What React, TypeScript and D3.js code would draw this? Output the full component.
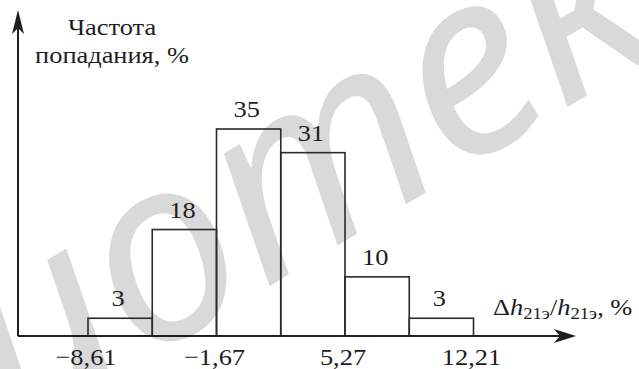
import React from "react";
import * as d3 from "d3";

// Histogram bins: edges of the relative deviation Δh21э/h21э, % and hit frequency, %
const binEdges = [-8.61, -5.14, -1.67, 1.8, 5.27, 8.74, 12.21];
const frequencies = [3, 18, 35, 31, 10, 3];
const tickValues = [-8.61, -1.67, 5.27, 12.21];
const tickLabels = ["−8,61", "−1,67", "5,27", "12,21"];

const W = 639;
const H = 369;
const FONT = "Liberation Serif";
const INK = "#1e1e1e";
const SX = 1.1;

function T({ x, y, size = 24, anchor = "middle", children }: any) {
  return (
    <text
      transform={`translate(${x},${y}) scale(${SX},1)`}
      textAnchor={anchor}
      style={{ fontFamily: FONT, fontSize: size }}
      fill={INK}
    >
      {children}
    </text>
  );
}

export default function App() {
  const x = d3.scaleLinear().domain([-8.61, 12.21]).range([88, 473.5]);
  const y = d3.scaleLinear().domain([0, 35]).range([336, 129]);
  const axisX = 18;
  const baseY = y(0);

  const bars = frequencies.map((f, i) => ({
    x0: x(binEdges[i]),
    x1: x(binEdges[i + 1]),
    v: f,
  }));

  return (
    <svg
      width={W}
      height={H}
      viewBox={`0 0 ${W} ${H}`}
      style={{ position: "absolute", left: 0, top: 0, background: "#fff" }}
    >
      {/* library stamp */}
      <text
        transform="translate(17,438) rotate(-31)"
        style={{ fontFamily: "Noto Sans", fontStyle: "italic", fontSize: 256 }}
        fill="#d9d9d9"
        textAnchor="start"
      >
        иотека
      </text>

      {/* bars */}
      {bars.map((b, i) => (
        <rect
          key={i}
          x={b.x0}
          y={y(b.v)}
          width={b.x1 - b.x0}
          height={baseY - y(b.v)}
          fill="none"
          stroke="#2a2a2a"
          strokeWidth={1.6}
        />
      ))}

      {/* value labels */}
      {bars.map((b, i) => (
        <T key={i} x={(b.x0 + b.x1) / 2 - 2} y={y(b.v) - 12}>
          {b.v}
        </T>
      ))}

      {/* axes */}
      <line x1={axisX} y1={baseY} x2={axisX} y2={22} stroke={INK} strokeWidth={2} />
      <path
        d={`M${axisX},10 L${axisX + 6},34 L${axisX},28 L${axisX - 6},34 Z`}
        fill={INK}
      />
      <line x1={axisX} y1={baseY} x2={566} y2={baseY} stroke={INK} strokeWidth={2} />
      <path
        d={`M576,${baseY} L554,${baseY - 7} L560,${baseY} L554,${baseY + 7} Z`}
        fill={INK}
      />

      {/* tick labels */}
      {tickValues.map((v, i) => (
        <T key={i} x={x(v) - 2} y={365}>
          {tickLabels[i]}
        </T>
      ))}

      {/* axis titles */}
      <T x={112} y={35}>Частота</T>
      <T x={112} y={63}>попадания, %</T>
      <text
        transform={`translate(493,315) scale(${SX},1)`}
        style={{ fontFamily: FONT, fontSize: 24 }}
        fill={INK}
      >
        Δ<tspan fontStyle="italic">h</tspan>
        <tspan fontSize={17} dy={4}>21э</tspan>
        <tspan dy={-4}>/</tspan>
        <tspan fontStyle="italic">h</tspan>
        <tspan fontSize={17} dy={4}>21э</tspan>
        <tspan dy={-4}>, %</tspan>
      </text>
    </svg>
  );
}
